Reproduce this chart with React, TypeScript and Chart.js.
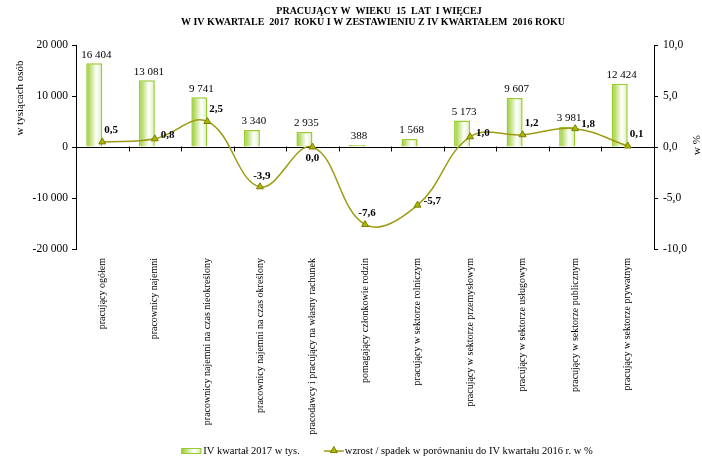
import React, { useEffect, useRef } from 'react';
import { Chart, registerables } from 'chart.js';

Chart.register(...registerables);

const TITLE_LINES = [
  'PRACUJĄCY W  WIEKU  15  LAT  I WIĘCEJ',
  'W IV KWARTALE  2017  ROKU I W ZESTAWIENIU Z IV KWARTAŁEM  2016 ROKU',
];

const categories = [
  'pracujący ogółem',
  'pracownicy najemni',
  'pracownicy najemni na czas nieokreślony',
  'pracownicy najemni na czas określony',
  'pracodawcy i pracujący na własny rachunek',
  'pomagający członkowie rodzin',
  'pracujący w sektorze rolniczym',
  'pracujący w sektorze przemysłowym',
  'pracujący w sektorze usługowym',
  'pracujący w sektorze publicznym',
  'pracujący w sektorze prywatnym',
];

const employed2017 = [16404, 13081, 9741, 3340, 2935, 388, 1568, 5173, 9607, 3981, 12424];
const changePct = [0.5, 0.8, 2.5, -3.9, 0.0, -7.6, -5.7, 1.0, 1.2, 1.8, 0.1];

const BAR_LABEL = 'IV kwartał 2017 w tys.';
const LINE_LABEL = 'wzrost / spadek w porównaniu do IV kwartału 2016 r. w %';
const LEFT_AXIS_TITLE = 'w tysiącach osób';
const RIGHT_AXIS_TITLE = 'w %';

const LEFT_MIN = -20000;
const LEFT_MAX = 20000;
const LEFT_STEP = 10000;
const RIGHT_MIN = -10;
const RIGHT_MAX = 10;
const RIGHT_STEP = 5;

// label placement for the percent labels (style only)
const pctLabelPlacement = ['ne', 'e', 'ne', 'n', 's', 'n', 'e', 'e', 'ne', 'e', 'ne'];

const SERIF = '"Liberation Serif", "Times New Roman", serif';
const LINE_COLOR = '#9c9c14';
const MARK_FILL = '#a9b800';
const MARK_BORDER = '#7d7d00';
const BAR_BORDER = '#99cc33';

const fmtInt = (v: number) => {
  const s = Math.abs(Math.round(v)).toString().replace(/\B(?=(\d{3})+(?!\d))/g, ' ');
  return (v < 0 ? '-' : '') + s;
};
const fmtPct = (v: number) => v.toFixed(1).replace('.', ',');

const barGradient = (ctx: CanvasRenderingContext2D, left: number, right: number) => {
  const g = ctx.createLinearGradient(left, 0, right, 0);
  g.addColorStop(0, '#92c928');
  g.addColorStop(0.2, '#b8dc6a');
  g.addColorStop(0.62, '#ffffff');
  g.addColorStop(0.85, '#eaf5d6');
  g.addColorStop(1, '#c0e080');
  return g;
};

const drawTriangle = (ctx: CanvasRenderingContext2D, x: number, y: number, r: number) => {
  ctx.save();
  ctx.beginPath();
  ctx.moveTo(x, y - r);
  ctx.lineTo(x + r, y + r * 0.75);
  ctx.lineTo(x - r, y + r * 0.75);
  ctx.closePath();
  ctx.fillStyle = MARK_FILL;
  ctx.strokeStyle = MARK_BORDER;
  ctx.lineWidth = 1;
  ctx.fill();
  ctx.stroke();
  ctx.restore();
};

const decorPlugin = {
  id: 'decor',
  beforeDatasetsDraw(chart: any) {
    const { ctx, chartArea, scales } = chart;
    const meta = chart.getDatasetMeta(0);
    meta.data.forEach((el: any) => {
      const { x, width } = el.getProps(['x', 'width'], true);
      el.options = { ...el.options, backgroundColor: barGradient(ctx, x - width / 2, x + width / 2) };
    });
    const xs = scales.x;
    const y0 = Math.round(scales.y.getPixelForValue(0)) + 0.5;
    ctx.save();
    ctx.strokeStyle = '#000';
    ctx.lineWidth = 1;
    ctx.beginPath();
    ctx.moveTo(chartArea.left, y0);
    ctx.lineTo(chartArea.right, y0);
    for (let i = 0; i < categories.length - 1; i++) {
      const bx = Math.round((xs.getPixelForValue(i) + xs.getPixelForValue(i + 1)) / 2) + 0.5;
      ctx.moveTo(bx, y0 - 1);
      ctx.lineTo(bx, y0 + 4);
    }
    ctx.stroke();
    ctx.restore();
  },
  afterDatasetsDraw(chart: any) {
    const { ctx } = chart;
    ctx.save();
    // bar value labels
    ctx.font = `11px ${SERIF}`;
    ctx.fillStyle = '#000';
    ctx.textAlign = 'center';
    ctx.textBaseline = 'bottom';
    chart.getDatasetMeta(0).data.forEach((el: any, i: number) => {
      const { x, y } = el.getProps(['x', 'y'], true);
      ctx.fillText(fmtInt(employed2017[i]), x + 2, y - 3);
    });
    // percent labels
    ctx.font = `bold 11px ${SERIF}`;
    ctx.textBaseline = 'middle';
    chart.getDatasetMeta(2).data.forEach((el: any, i: number) => {
      const { x, y } = el.getProps(['x', 'y'], true);
      const t = fmtPct(changePct[i]);
      const p = pctLabelPlacement[i];
      if (p === 'ne') {
        ctx.textAlign = 'left';
        ctx.fillText(t, x + 2, y - 12);
      } else if (p === 'e') {
        ctx.textAlign = 'left';
        ctx.fillText(t, x + 6, y - 4);
      } else if (p === 'n') {
        ctx.textAlign = 'center';
        ctx.fillText(t, x + 2, y - 11);
      } else {
        ctx.textAlign = 'center';
        ctx.fillText(t, x, y + 11);
      }
    });
    ctx.restore();
  },
  afterDraw(chart: any) {
    const { ctx, chartArea } = chart;
    const cx = (chartArea.left + chartArea.right) / 2;
    ctx.save();
    ctx.fillStyle = '#000';
    // title
    ctx.font = `bold 10px ${SERIF}`;
    ctx.textAlign = 'center';
    ctx.textBaseline = 'middle';
    ctx.fillText(TITLE_LINES[0], cx + 14, 11);
    ctx.fillText(TITLE_LINES[1], cx + 8, 22);
    // axis titles
    ctx.font = `11px ${SERIF}`;
    ctx.save();
    ctx.translate(20, 98);
    ctx.rotate(-Math.PI / 2);
    ctx.fillText(LEFT_AXIS_TITLE, 0, 0);
    ctx.restore();
    ctx.save();
    ctx.translate(chart.width - 5, (chartArea.top + chartArea.bottom) / 2 - 2);
    ctx.rotate(-Math.PI / 2);
    ctx.fillText(RIGHT_AXIS_TITLE, 0, 0);
    ctx.restore();
    // legend
    ctx.font = `10.5px ${SERIF}`;
    ctx.textAlign = 'left';
    const sw = 20;
    const w1 = ctx.measureText(BAR_LABEL).width;
    const w2 = ctx.measureText(LINE_LABEL).width;
    const gap = 24;
    const total = sw + 2 + w1 + gap + sw + 1 + w2;
    let x = cx + 22 - total / 2;
    const y = 451;
    ctx.fillStyle = barGradient(ctx, x, x + sw);
    ctx.fillRect(x, y - 3, sw, 6);
    ctx.strokeStyle = BAR_BORDER;
    ctx.lineWidth = 1;
    ctx.strokeRect(x + 0.5, y - 2.5, sw - 1, 5);
    ctx.fillStyle = '#000';
    ctx.fillText(BAR_LABEL, x + sw + 2, y);
    x += sw + 2 + w1 + gap;
    ctx.strokeStyle = LINE_COLOR;
    ctx.lineWidth = 1.5;
    ctx.beginPath();
    ctx.moveTo(x, y);
    ctx.lineTo(x + sw, y);
    ctx.stroke();
    drawTriangle(ctx, x + sw / 2, y - 1, 3.5);
    ctx.fillStyle = '#000';
    ctx.fillText(LINE_LABEL, x + sw + 1, y);
    ctx.restore();
  },
};

export default function App() {
  const ref = useRef<HTMLCanvasElement | null>(null);

  useEffect(() => {
    if (!ref.current) return;
    const chart = new Chart(ref.current, {
      type: 'bar',
      data: {
        labels: categories,
        datasets: [
          {
            type: 'bar',
            label: BAR_LABEL,
            data: employed2017,
            yAxisID: 'y',
            backgroundColor: '#d4eca0',
            borderColor: BAR_BORDER,
            borderWidth: 1.5,
            categoryPercentage: 0.61,
            barPercentage: 1,
            order: 1,
          },
          {
            type: 'bar',
            label: '',
            data: categories.map(() => null),
            yAxisID: 'y',
            categoryPercentage: 0.61,
            barPercentage: 1,
            order: 2,
          },
          {
            type: 'line',
            label: LINE_LABEL,
            data: changePct,
            yAxisID: 'y1',
            borderColor: LINE_COLOR,
            borderWidth: 1.5,
            tension: 0.4,
            pointStyle: 'triangle',
            pointRadius: 4,
            pointBackgroundColor: MARK_FILL,
            pointBorderColor: MARK_BORDER,
            pointBorderWidth: 1,
            order: 0,
          },
        ] as any,
      },
      options: {
        animation: false,
        responsive: false,
        devicePixelRatio: 1,
        layout: { padding: { top: 45, left: 0, right: 0, bottom: 0 } },
        plugins: {
          legend: { display: false },
          tooltip: { enabled: false },
          title: { display: false },
        },
        scales: {
          x: {
            type: 'category',
            offset: true,
            grid: { display: false },
            border: { display: false },
            ticks: {
              autoSkip: false,
              maxRotation: 90,
              minRotation: 90,
              color: '#000',
              padding: 1,
              font: { family: SERIF, size: 10 },
            },
            afterFit: (s: any) => {
              s.height = 210;
            },
          },
          y: {
            position: 'left',
            min: LEFT_MIN,
            max: LEFT_MAX,
            ticks: {
              stepSize: LEFT_STEP,
              color: '#000',
              padding: 4,
              font: { family: SERIF, size: 11.5 },
              callback: (v: any) => fmtInt(Number(v)),
            },
            grid: { display: true, drawOnChartArea: false, tickLength: 4, color: '#000' },
            border: { display: true, color: '#000' },
            afterFit: (s: any) => {
              s.width = 76;
            },
          },
          y1: {
            position: 'right',
            min: RIGHT_MIN,
            max: RIGHT_MAX,
            ticks: {
              stepSize: RIGHT_STEP,
              color: '#000',
              padding: 5,
              font: { family: SERIF, size: 11.5 },
              callback: (v: any) => fmtPct(Number(v)),
            },
            grid: { display: true, drawOnChartArea: false, tickLength: 4, color: '#000' },
            border: { display: true, color: '#000' },
            afterFit: (s: any) => {
              s.width = 48;
            },
          },
        },
      } as any,
      plugins: [decorPlugin],
    });
    return () => chart.destroy();
  }, []);

  return (
    <div style={{ position: 'fixed', left: 0, top: 0, width: 702, height: 459, background: '#fff' }}>
      <canvas ref={ref} width={702} height={459} style={{ display: 'block', width: 702, height: 459 }} />
    </div>
  );
}
